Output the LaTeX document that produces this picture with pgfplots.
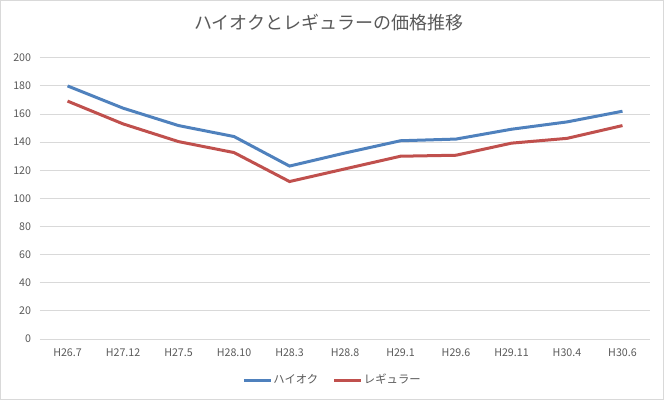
\documentclass[border=0pt]{standalone}
\usepackage{fontspec}
\setmainfont{Noto Sans CJK JP}
\usepackage{pgfplots}
\pgfplotsset{compat=1.18}
\definecolor{hblue}{HTML}{4F81BD}
\definecolor{rred}{HTML}{C0504D}
\definecolor{gridc}{HTML}{D9D9D9}
\definecolor{txt}{HTML}{595959}
\begin{document}
\begin{tikzpicture}[x=0.75pt,y=0.75pt]
\draw[gridc, use as bounding box] (0.5,0.5) rectangle (663.5,399.5);
\node[txt, font=\fontsize{13.5pt}{15pt}\selectfont] at (329,377) {ハイオクとレギュラーの価格推移};
\begin{axis}[
  at={(30pt,45.75pt)}, anchor=south west,
  scale only axis, width=457.5pt, height=210.75pt,
  xmin=-0.5, xmax=10.5, ymin=0, ymax=200,
  xtick={0,...,10},
  xticklabels={H26.7,H27.12,H27.5,H28.10,H28.3,H28.8,H29.1,H29.6,H29.11,H30.4,H30.6},
  ytick={0,20,...,200},
  ymajorgrids, grid style={gridc, line width=0.75pt},
  axis x line*=bottom, axis y line*=left,
  x axis line style={gridc, line width=0.75pt, -},
  y axis line style={draw=none},
  major tick length=0pt,
  tick label style={txt, font=\fontsize{8pt}{9pt}\selectfont},
  /pgf/number format/assume math mode=true,
  xticklabel style={yshift=-4pt},
  yticklabel style={xshift=-3pt},
  legend style={at={(0.479,-0.146)}, anchor=center, draw=none, font=\fontsize{8.5pt}{10pt}\selectfont, text=txt,
    /tikz/every even column/.append style={column sep=10pt},
    /tikz/every node/.append style={inner xsep=1pt}},
  legend columns=2,
  legend image code/.code={\draw[#1, line width=2.25pt] (0,0) -- (20pt,0);},
]
\addplot[hblue, line width=2.25pt] coordinates {
(0,180) (1,164.2) (2,151.8) (3,144) (4,123) (5,132.3) (6,141) (7,142.2) (8,149.2) (9,154.4) (10,162)};
\addlegendentry{ハイオク}
\addplot[rred, line width=2.25pt] coordinates {
(0,169.2) (1,153) (2,140.4) (3,132.6) (4,112) (5,121) (6,130) (7,130.7) (8,139.3) (9,142.7) (10,151.8)};
\addlegendentry{レギュラー}
\end{axis}
\end{tikzpicture}
\end{document}
